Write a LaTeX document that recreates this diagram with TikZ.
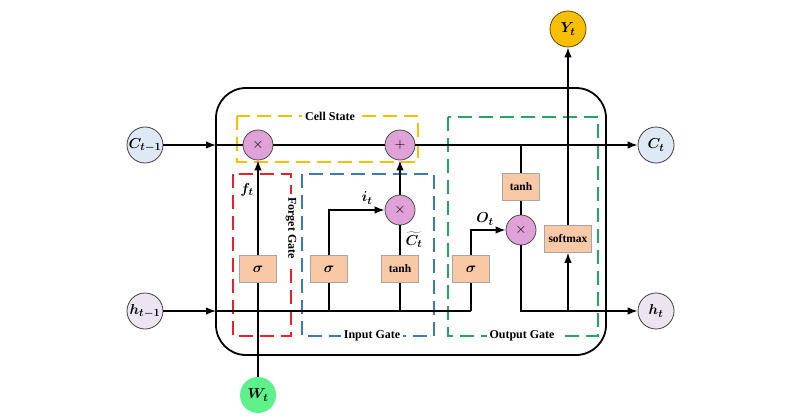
\documentclass[tikz,border=0pt]{standalone}
\usepackage{fontspec}
\setmainfont{Liberation Serif}
\usepackage{bm}
\usetikzlibrary{arrows.meta}
\definecolor{cfill}{HTML}{DFE9F5}
\definecolor{hfill}{HTML}{ECE4F0}
\definecolor{pinkop}{HTML}{E0A0D8}
\definecolor{peach}{HTML}{F8C9A4}
\definecolor{wgreen}{HTML}{5EF08A}
\definecolor{ygold}{HTML}{F8BF00}
\definecolor{dyellow}{HTML}{F2C200}
\definecolor{dred}{HTML}{E8202A}
\definecolor{dblue}{HTML}{3A7AB8}
\definecolor{dgreen}{HTML}{20A860}
\tikzset{
  io/.style={circle, draw=black!75, line width=0.8pt, minimum size=36pt, inner sep=0pt, font=\fontsize{15}{17}\selectfont},
  op/.style={circle, draw=black!70, line width=0.8pt, fill=pinkop, minimum size=30pt, inner sep=0pt, font=\fontsize{14}{16}\selectfont},
  act/.style={rectangle, fill=peach, draw=black!35, line width=0.5pt, minimum width=37pt, minimum height=27pt, inner sep=0pt, font=\bfseries\fontsize{11.5}{13}\selectfont},
  conn/.style={line width=1.5pt},
  arr/.style={line width=1.5pt, -{Latex[length=10pt,width=7.5pt]}},
  gatebox/.style={line width=1.8pt, dash pattern=on 14pt off 7pt},
  gatelbl/.style={fill=white, inner sep=3pt, font=\bfseries\fontsize{12}{14}\selectfont},
  mlbl/.style={font=\fontsize{15}{17}\selectfont, inner sep=0pt}
}
\begin{document}
\begin{tikzpicture}[x=1pt,y=-1pt]
\useasboundingbox (0,0) rectangle (800,420);
% main cell
\draw[line width=1.8pt, rounded corners=30pt] (216,88) rectangle (606,355);
% gate boxes
\draw[gatebox, draw=dyellow] (237,116) rectangle (418,162);
\draw[gatebox, draw=dred] (233,174) rectangle (291,336);
\draw[gatebox, draw=dblue] (302,174) rectangle (434,336);
\draw[gatebox, draw=dgreen] (448,117) rectangle (598,336);
\node[gatelbl] (lcell) at (330,116) {Cell State};
\node[gatelbl, rotate=-90] (lforget) at (291,228) {Forget Gate};
\node[gatelbl] (linput) at (372,336) {Input Gate};
\node[gatelbl] (loutput) at (522,336) {Output Gate};
% inputs / outputs
\node[io, fill=cfill] (Cin) at (145,145) {$\bm{C_{t-1}}$};
\node[io, fill=hfill] (hin) at (145,311) {$\bm{h_{t-1}}$};
\node[io, fill=cfill] (Ct) at (656,145) {$\bm{C_t}$};
\node[io, fill=hfill] (ht) at (656,311) {$\bm{h_t}$};
\node[io, fill=wgreen, draw=none] (W) at (258,395) {$\bm{W_t}$};
\node[io, fill=ygold, draw=black!60!ygold] (Y) at (568,29) {$\bm{Y_t}$};
% operators
\node[op] (mulf) at (258,145) {$\times$};
\node[op] (plus) at (400,145) {$+$};
\node[op] (muli) at (400,210) {$\times$};
\node[op] (mulo) at (521,230) {$\times$};
% activations
\node[act] (sigf) at (258,269) {\fontsize{15}{17}\selectfont$\bm{\sigma}$};
\node[act] (sigi) at (329,269) {\fontsize{15}{17}\selectfont$\bm{\sigma}$};
\node[act] (tanhi) at (400,269) {tanh};
\node[act] (sigo) at (471,269) {\fontsize{15}{17}\selectfont$\bm{\sigma}$};
\node[act] (tanho) at (521,187) {tanh};
\node[act, minimum width=47pt] (soft) at (568,239) {softmax};
% junction coordinates
\coordinate (cedge) at (216,145);
\coordinate (hedge) at (216,311);
\coordinate (jtanho) at (521,145);
\coordinate (jsigi) at (329,311);
\coordinate (jtanhi) at (400,311);
\coordinate (jsigo) at (471,311);
\coordinate (cornsigi) at (329,210);
\coordinate (cornsigo) at (471,230);
\coordinate (cornmulo) at (521,311);
\coordinate (jsoft) at (568,311);
% cell state line
\draw[arr] (Cin) -- (cedge);
\draw[conn] (cedge) -- (mulf);
\draw[conn] (mulf) -- (plus);
\draw[arr] (plus) -- (Ct);
% hidden line
\draw[arr] (hin) -- (hedge);
\draw[conn] (hedge) -- (jsigo);
% forget gate
\draw[conn] (W) -- (sigf);
\draw[arr] (sigf) -- (mulf);
% input gate
\draw[conn] (jsigi) -- (sigi);
\draw[arr] (sigi) -- (cornsigi) -- (muli);
\draw[conn] (jtanhi) -- (tanhi);
\draw[conn] (tanhi) -- (muli);
\draw[arr] (muli) -- (plus);
% output gate
\draw[conn] (jsigo) -- (sigo);
\draw[arr] (sigo) -- (cornsigo) -- (mulo);
\draw[conn] (jtanho) -- (tanho);
\draw[conn] (tanho) -- (mulo);
\draw[conn] (mulo) -- (cornmulo) -- (jsoft);
\draw[arr] (jsoft) -- (ht);
\draw[arr] (jsoft) -- (soft);
\draw[arr] (soft) -- (Y);
% labels
\node[mlbl] (lft) at (247,190) {$\bm{f_t}$};
\node[mlbl] (lit) at (367,198) {$\bm{i_t}$};
\node[mlbl] (lct) at (414,240) {$\widetilde{\bm{C_t}}$};
\node[mlbl] (lot) at (485,219) {$\bm{O_t}$};
\end{tikzpicture}
\end{document}
